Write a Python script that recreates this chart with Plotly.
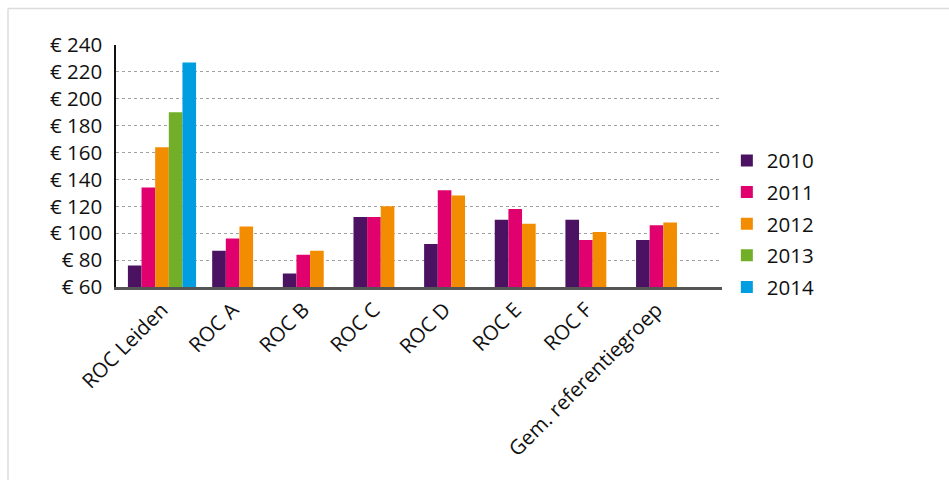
import plotly.graph_objects as go

categories = ["ROC Leiden", "ROC A", "ROC B", "ROC C", "ROC D", "ROC E", "ROC F",
              "Gem. referentiegroep"]
years = ["2010", "2011", "2012", "2013", "2014"]
v2010 = [76, 87, 70, 112, 92, 110, 110, 95]
v2011 = [134, 96, 84, 112, 132, 118, 95, 106]
v2012 = [164, 105, 87, 120, 128, 107, 101, 108]
v2013 = [190, None, None, None, None, None, None, None]
v2014 = [227, None, None, None, None, None, None, None]
colors = ["#4b1262", "#e0006e", "#f28c00", "#72ae27", "#009ee0"]
y_ticks = [60, 80, 100, 120, 140, 160, 180, 200, 220, 240]
y_labels = ["€ " + str(v) for v in y_ticks]

series = [v2010, v2011, v2012, v2013, v2014]
BW = 0.193

# centre each category's present bars around the category tick
offsets = [[None] * len(categories) for _ in series]
for i in range(len(categories)):
    present = [k for k, s in enumerate(series) if s[i] is not None]
    n = len(present)
    for r, k in enumerate(present):
        offsets[k][i] = (r - n / 2) * BW

fig = go.Figure()
for k, (yr, vals) in enumerate(zip(years, series)):
    fig.add_trace(go.Bar(
        x=categories, y=vals, name=yr,
        marker=dict(color=colors[k], line=dict(width=0)),
        width=BW, offset=[o if o is not None else 0 for o in offsets[k]],
        legendgroup=yr,
    ))

FONT = "Open Sans, Noto Sans, sans-serif"
fig.update_layout(
    width=949, height=480,
    barmode="overlay",
    paper_bgcolor="white", plot_bgcolor="white",
    margin=dict(l=116, r=227, t=45, b=193),
    font=dict(family=FONT, size=20, color="#111"),
    showlegend=True,
    legend=dict(x=1.008, y=0.26, xanchor="left", yanchor="middle",
                font=dict(size=20.5, color="#111"), tracegroupgap=2,
                traceorder="grouped", itemwidth=30),
    xaxis=dict(
        type="category", range=[-0.651, 7.927],
        showgrid=False, ticks="", tickangle=-45,
        showline=True, linecolor="#555", linewidth=2.5,
        tickfont=dict(size=20.5, color="#111"),
    ),
    yaxis=dict(
        range=[60, 240], tickvals=y_ticks, ticktext=y_labels,
        showgrid=True, gridcolor="#a0a0a0", griddash="dot", gridwidth=1.4,
        showline=True, linecolor="#111", linewidth=1.5,
        zeroline=False, ticks="", tickfont=dict(size=20.5, color="#111"),
        ticklabelstandoff=8,
    ),
    shapes=[
        dict(type="line", xref="paper", yref="paper",
             x0=(8 - 116) / 606, x1=(949 - 116) / 606,
             y0=(287 - 8.5) / 242, y1=(287 - 8.5) / 242,
             line=dict(color="#dcdcdc", width=1.5)),
        dict(type="line", xref="paper", yref="paper",
             x0=(8 - 116) / 606, x1=(8 - 116) / 606,
             y0=(287 - 8.5) / 242, y1=(287 - 480) / 242,
             line=dict(color="#dcdcdc", width=1.5)),
    ],
)

fig.write_html("out.html")
